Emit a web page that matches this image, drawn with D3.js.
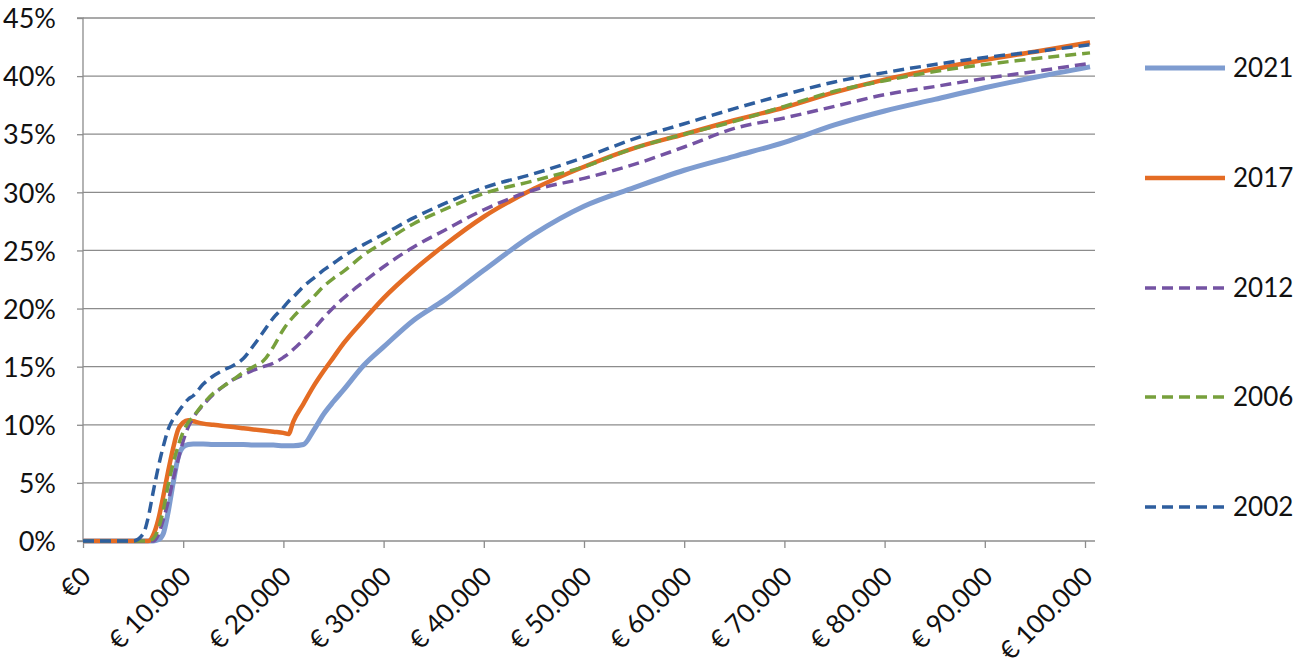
<!DOCTYPE html>
<html>
<head>
<meta charset="utf-8">
<script src="https://cdn.jsdelivr.net/npm/d3@7"></script>
<style>
  html, body { margin: 0; padding: 0; background: #fff; }
  svg { display: block; }
  text { font-family: Lato, "Open Sans", sans-serif; fill: #111; }
</style>
</head>
<body>
<svg id="chart" width="1299" height="668"></svg>
<script>
// Income in thousands of euros
const income = [0, 5, 6, 6.5, 7, 7.5, 8, 8.5, 9, 9.5, 10, 10.5, 11, 12, 13, 14, 15, 16, 17, 18, 19, 20, 20.5, 21, 22, 23, 24, 25, 26, 28, 30, 33, 36, 40, 45, 50, 55, 60, 65, 70, 75, 80, 85, 90, 95, 100.5];

// Average tax rate in percent
const rate2021 = [0, 0, 0, 0, 0, 0.1, 0.6, 2.5, 5.0, 7.2, 8.1, 8.3, 8.35, 8.35, 8.3, 8.3, 8.3, 8.3, 8.25, 8.25, 8.25, 8.2, 8.2, 8.2, 8.3, 9.5, 10.9, 12.0, 13.0, 15.1, 16.7, 19.0, 20.7, 23.3, 26.4, 28.8, 30.4, 31.9, 33.1, 34.3, 35.8, 37.0, 38.0, 39.0, 39.9, 40.8];
const rate2017 = [0, 0, 0, 0, 0.5, 1.8, 3.8, 6.0, 8.0, 9.6, 10.2, 10.4, 10.3, 10.1, 10.0, 9.9, 9.8, 9.7, 9.6, 9.5, 9.4, 9.3, 9.2, 10.3, 11.8, 13.3, 14.6, 15.8, 17.0, 19.0, 20.9, 23.3, 25.4, 27.9, 30.3, 32.2, 33.8, 35.0, 36.2, 37.3, 38.6, 39.7, 40.6, 41.4, 42.1, 42.9];
const rate2012 = [0, 0, 0, 0, 0, 0.5, 1.8, 3.4, 5.3, 7.0, 8.6, 9.8, 10.6, 11.7, 12.6, 13.3, 13.9, 14.3, 14.7, 15.0, 15.3, 15.8, 16.1, 16.5, 17.3, 18.2, 19.2, 20.1, 20.9, 22.3, 23.6, 25.3, 26.7, 28.5, 30.2, 31.2, 32.4, 33.9, 35.5, 36.4, 37.4, 38.4, 39.1, 39.8, 40.4, 41.1];
const rate2006 = [0, 0, 0, 0, 0.2, 1.0, 2.6, 4.8, 6.7, 8.2, 9.4, 10.2, 10.7, 11.8, 12.7, 13.3, 13.9, 14.5, 15.0, 15.5, 16.7, 18.2, 18.8, 19.3, 20.2, 21.0, 21.9, 22.6, 23.2, 24.6, 25.7, 27.3, 28.5, 29.9, 31.0, 32.2, 33.8, 35.0, 36.1, 37.4, 38.7, 39.6, 40.4, 41.0, 41.5, 42.0];
const rate2002 = [0, 0, 0.6, 2.0, 4.2, 6.3, 8.1, 9.6, 10.5, 11.1, 11.7, 12.2, 12.5, 13.5, 14.2, 14.7, 15.1, 15.7, 16.8, 18.0, 19.2, 20.1, 20.6, 21.0, 21.9, 22.6, 23.3, 23.9, 24.5, 25.5, 26.4, 27.8, 29.0, 30.4, 31.6, 33.0, 34.6, 35.9, 37.2, 38.4, 39.5, 40.3, 41.0, 41.6, 42.1, 42.7];

const seriesNames = ["2021", "2017", "2012", "2006", "2002"];
const seriesValues = [rate2021, rate2017, rate2012, rate2006, rate2002];

const xTicks = [0, 10, 20, 30, 40, 50, 60, 70, 80, 90, 100];
const xTickLabels = ["€0", "€ 10.000", "€ 20.000", "€ 30.000", "€ 40.000", "€ 50.000", "€ 60.000", "€ 70.000", "€ 80.000", "€ 90.000", "€ 100.000"];
const yTicks = [0, 5, 10, 15, 20, 25, 30, 35, 40, 45];
const yTickLabels = ["0%", "5%", "10%", "15%", "20%", "25%", "30%", "35%", "40%", "45%"];

// Styles
const colors = ["#7E9CD0", "#E46C24", "#7453A3", "#77A03C", "#2E5E9E"];
const widths = [5, 4.5, 3.5, 3.5, 3.5];
const dashes = [null, null, "11,6", "11,6", "11,6"];

const svg = d3.select("#chart");
const pLeft = 83, pRight = 1085, pTop = 18, pBottom = 541, gridRight = 1095;

const x = d3.scaleLinear().domain([0, 100]).range([pLeft, pRight]);
const y = d3.scaleLinear().domain([0, 45]).range([pBottom, pTop]);

// Gridlines
svg.append("g").selectAll("line").data(yTicks.slice(1)).join("line")
  .attr("x1", pLeft).attr("x2", gridRight)
  .attr("y1", d => y(d)).attr("y2", d => y(d))
  .attr("stroke", "#8c8c8c").attr("stroke-width", 1.3);

// Y axis
const yAxis = d3.axisLeft(y).tickValues(yTicks).tickSize(6).tickPadding(10)
  .tickFormat((d, i) => yTickLabels[i]);
const gy = svg.append("g").attr("transform", `translate(${pLeft},0)`).call(yAxis);
gy.select(".domain").attr("stroke", "#8c8c8c").attr("stroke-width", 1.3).attr("d", `M-6,${pTop}H0V${pBottom}H-6`);
gy.selectAll(".tick line").attr("stroke", "#8c8c8c").attr("stroke-width", 1.3);
gy.selectAll(".tick text").style("font-size", "27px").style("font-family", "Lato, sans-serif").attr("fill", "#111").attr("x", -27).attr("dy", "0.36em");

// X axis
const xAxis = d3.axisBottom(x).tickValues(xTicks).tickSize(7).tickFormat((d, i) => xTickLabels[i]);
const gx = svg.append("g").attr("transform", `translate(0,${pBottom})`).call(xAxis);
gx.select(".domain").attr("stroke", "#8c8c8c").attr("stroke-width", 1.3).attr("d", `M${pLeft},0H${gridRight}`);
gx.selectAll(".tick line").attr("stroke", "#8c8c8c").attr("stroke-width", 1.3);
gx.selectAll(".tick text")
  .style("font-size", "26px").style("font-family", "Lato, sans-serif").attr("fill", "#111")
  .attr("text-anchor", "end")
  .attr("y", 0).attr("dy", 0)
  .attr("transform", "translate(9,37) rotate(-45)");

// Lines
const line = d3.line().x((d, i) => x(income[i])).y(d => y(d)).curve(d3.curveMonotoneX);
seriesValues.forEach((vals, s) => {
  svg.append("path")
    .datum(vals)
    .attr("d", line)
    .attr("fill", "none")
    .attr("stroke", colors[s])
    .attr("stroke-width", widths[s])
    .attr("stroke-linejoin", "round")
    .attr("stroke-dasharray", dashes[s]);
});

// Legend
const legendY = [68, 178, 288, 397, 507];
const lg = svg.append("g");
seriesNames.forEach((name, s) => {
  lg.append("line")
    .attr("x1", 1145).attr("x2", 1225)
    .attr("y1", legendY[s]).attr("y2", legendY[s])
    .attr("stroke", colors[s]).attr("stroke-width", widths[s])
    .attr("stroke-dasharray", dashes[s]);
  lg.append("text")
    .attr("x", 1233).attr("y", legendY[s]).attr("dy", "0.36em")
    .style("font-size", "26px")
    .text(name);
});
</script>
</body>
</html>
